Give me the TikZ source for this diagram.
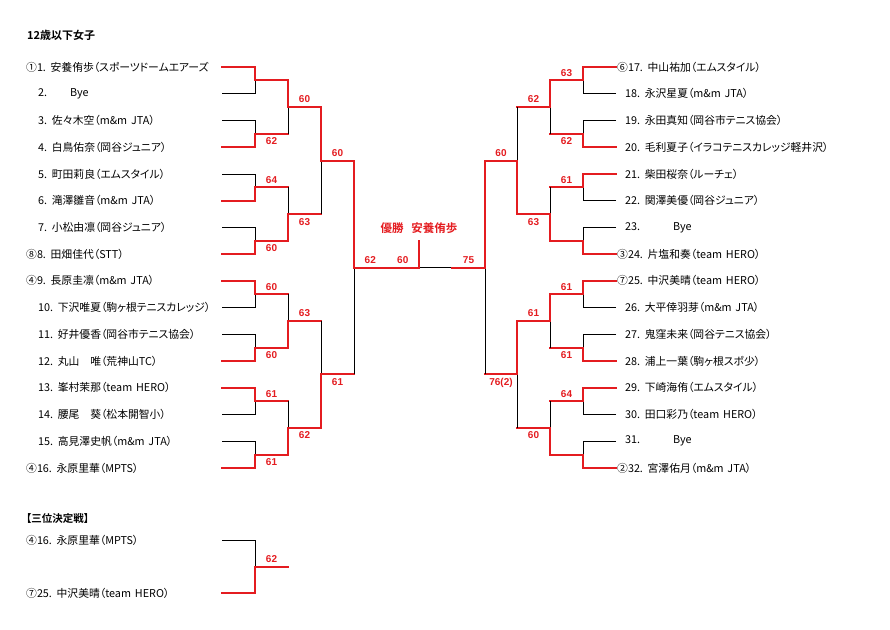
\documentclass[tikz,border=0pt]{standalone}
\usepackage{fontspec}
\setmainfont{Noto Sans CJK JP}[BoldFont={Noto Sans CJK JP Bold}, RawFeature=+palt, WordSpace=1.6]
\newfontfamily\scorefont{Liberation Sans}
\usepackage{tikz}
\definecolor{bracketred}{RGB}{228,28,32}

\tikzset{
  win/.style={draw=bracketred, line width=2pt, line cap=rect},
  lose/.style={draw=black, line width=0.7pt},
  score/.style={text=bracketred, font=\scorefont\bfseries\fontsize{10}{12}\selectfont, inner sep=3pt},
  player/.style={anchor=west, inner sep=0pt, font=\fontsize{10.8}{12}\selectfont},
  heading/.style={anchor=west, inner sep=0pt, font=\bfseries\fontsize{11}{13}\selectfont},
}

\begin{document}
\begin{tikzpicture}[x=1pt, y=-1pt]
\useasboundingbox (0,0) rectangle (890,629);

\node[heading] (title) at (27,35) {12歳以下女子};

% left half of the draw
\foreach \i/\x/\name in {1/26/{①1. 安養侑歩（スポーツドームエアーズ}, 2/38/{2.\hspace{23pt}Bye},
  3/38/{3. 佐々木空（m\&m JTA）}, 4/38/{4. 白鳥佑奈（岡谷ジュニア）},
  5/38/{5. 町田莉良（エムスタイル）}, 6/38/{6. 滝澤雛音（m\&m JTA）},
  7/38/{7. 小松由凛（岡谷ジュニア）}, 8/26/{⑧8. 田畑佳代（STT）},
  9/26/{④9. 長原圭凛（m\&m JTA）}, 10/38/{10. 下沢唯夏（駒ヶ根テニスカレッジ）},
  11/38/{11. 好井優香（岡谷市テニス協会）}, 12/38/{12. 丸山　唯（荒神山TC）},
  13/38/{13. 峯村茉那（team HERO）}, 14/38/{14. 腰尾　葵（松本開智小）},
  15/38/{15. 高見澤史帆（m\&m JTA）}, 16/26/{④16. 永原里華（MPTS）}}
{
  \node[player] (n\i) at (\x,{67+(\i-1)*26.73}) {\name};
  \coordinate (e\i) at (222,{67+(\i-1)*26.73});
}

% right half of the draw
\foreach \i/\x/\name in {17/617/{⑥17. 中山祐加（エムスタイル）}, 18/625/{18. 永沢星夏（m\&m JTA）},
  19/625/{19. 永田真知（岡谷市テニス協会）}, 20/625/{20. 毛利夏子（イラコテニスカレッジ軽井沢）},
  21/625/{21. 柴田桜奈（ルーチェ）}, 22/625/{22. 関澤美優（岡谷ジュニア）},
  23/625/{23.\hspace{33pt}Bye}, 24/617/{③24. 片塩和奏（team HERO）},
  25/617/{⑦25. 中沢美晴（team HERO）}, 26/625/{26. 大平倖羽芽（m\&m JTA）},
  27/625/{27. 鬼窪未来（岡谷テニス協会）}, 28/625/{28. 浦上一葉（駒ヶ根スポ少）},
  29/625/{29. 下崎海侑（エムスタイル）}, 30/625/{30. 田口彩乃（team HERO）},
  31/625/{31.\hspace{33pt}Bye}, 32/617/{②32. 宮澤佑月（m\&m JTA）}}
{
  \node[player] (n\i) at (\x,{67+(\i-17)*26.73}) {\name};
  \coordinate (e\i) at (616,{67+(\i-17)*26.73});
}

% bracket points
\foreach \k in {1,...,8} {
  \coordinate (mL\k) at (255,{67+(2*\k-1.5)*26.73});
  \coordinate (mR\k) at (583,{67+(2*\k-1.5)*26.73});
}
\foreach \k in {1,...,4} {
  \coordinate (qL\k) at (288,{67+(4*\k-2.5)*26.73});
  \coordinate (qR\k) at (550,{67+(4*\k-2.5)*26.73});
}
\foreach \k in {1,2} {
  \coordinate (sL\k) at (321,{67+(8*\k-4.5)*26.73});
  \coordinate (sR\k) at (517,{67+(8*\k-4.5)*26.73});
}
\coordinate (fL) at (354,267.5);
\coordinate (fR) at (485,267.5);
\coordinate (c) at (419,267.5);
\coordinate (cr) at (452,267.5);
\coordinate (w) at (419,241);

% first round
\foreach \k/\a/\b/\s/\pos in {1/win/lose//above, 2/lose/win/62/below, 3/lose/win/64/above, 4/lose/win/60/below,
  5/win/lose/60/above, 6/lose/win/60/below, 7/win/lose/61/above, 8/lose/win/61/below}
{
  \pgfmathtruncatemacro\i{2*\k-1}
  \pgfmathtruncatemacro\j{2*\k}
  \pgfmathtruncatemacro\p{(\k+1)/2}
  \draw[\a] (e\i) -- (e\i -| mL\k) -- (mL\k);
  \draw[\b] (e\j) -- (e\j -| mL\k) -- (mL\k);
  \draw[win] (mL\k) -- (mL\k -| qL\p) node[midway,\pos,score] {\s};
}
\foreach \k/\a/\b/\s/\pos in {1/win/lose/63/above, 2/lose/win/62/below, 3/win/lose/61/above, 4/lose/win//below,
  5/win/lose/61/above, 6/lose/win/61/below, 7/win/lose/64/above, 8/lose/win//below}
{
  \pgfmathtruncatemacro\i{2*\k+15}
  \pgfmathtruncatemacro\j{2*\k+16}
  \pgfmathtruncatemacro\p{(\k+1)/2}
  \draw[\a] (e\i) -- (e\i -| mR\k) -- (mR\k);
  \draw[\b] (e\j) -- (e\j -| mR\k) -- (mR\k);
  \draw[win] (mR\k) -- (mR\k -| qR\p) node[midway,\pos,score] {\s};
}

% second round
\foreach \k/\a/\b/\s/\pos in {1/win/lose/60/above, 2/lose/win/63/below, 3/lose/win/63/above, 4/lose/win/62/below}
{
  \pgfmathtruncatemacro\i{2*\k-1}
  \pgfmathtruncatemacro\j{2*\k}
  \pgfmathtruncatemacro\p{(\k+1)/2}
  \draw[\a] (mL\i -| qL\k) -- (qL\k);
  \draw[\b] (mL\j -| qL\k) -- (qL\k);
  \draw[win] (qL\k) -- (qL\k -| sL\p) node[midway,\pos,score] {\s};
}
\foreach \k/\a/\b/\s/\pos in {1/win/lose/62/above, 2/lose/win/63/below, 3/win/lose/61/above, 4/lose/win/60/below}
{
  \pgfmathtruncatemacro\i{2*\k-1}
  \pgfmathtruncatemacro\j{2*\k}
  \pgfmathtruncatemacro\p{(\k+1)/2}
  \draw[\a] (mR\i -| qR\k) -- (qR\k);
  \draw[\b] (mR\j -| qR\k) -- (qR\k);
  \draw[win] (qR\k) -- (qR\k -| sR\p) node[midway,\pos,score] {\s};
}

% quarter finals
\draw[win] (qL1 -| sL1) -- (sL1);
\draw[lose] (qL2 -| sL1) -- (sL1);
\draw[win] (sL1) -- (sL1 -| fL) node[midway,above,score] {60};
\draw[lose] (qL3 -| sL2) -- (sL2);
\draw[win] (qL4 -| sL2) -- (sL2);
\draw[win] (sL2) -- (sL2 -| fL) node[midway,below,score] {61};
\draw[lose] (qR1 -| sR1) -- (sR1);
\draw[win] (qR2 -| sR1) -- (sR1);
\draw[win] (sR1) -- (sR1 -| fR) node[midway,above,score] {60};
\draw[win] (qR3 -| sR2) -- (sR2);
\draw[lose] (qR4 -| sR2) -- (sR2);
\draw[win] (sR2) -- (sR2 -| fR) node[midway,below,score] {76(2)};

% semi finals and final
\draw[lose] (sL2 -| fL) -- (fL);
\draw[win] (sL1 -| fL) -- (fL);
\draw[lose] (sR2 -| fR) -- (fR);
\draw[win] (sR1 -| fR) -- (fR);
\draw[lose] (c) -- (cr);
\draw[win] (fR) -- (cr) node[midway,above,score] {75};
\draw[win] (fL) -- (c) node[pos=0.25,above,score] {62} node[pos=0.75,above,score] {60};
\draw[win] (c) -- (w);
\node[text=bracketred, font=\bfseries\fontsize{11.5}{13}\selectfont, inner sep=0pt] (champ) at (419,228) {優勝\hspace{8pt}安養侑歩};

% third place match
\node[heading, font=\bfseries\fontsize{10.5}{13}\selectfont] (third) at (26,519) {【三位決定戦】};
\node[player] (t1) at (26,540) {④16. 永原里華（MPTS）};
\node[player] (t2) at (26,593) {⑦25. 中沢美晴（team HERO）};
\coordinate (et1) at (222,540);
\coordinate (et2) at (222,593);
\coordinate (mt) at (255,566.5);
\draw[lose] (et1) -- (et1 -| mt) -- (mt);
\draw[win] (et2) -- (et2 -| mt) -- (mt);
\draw[win] (mt) -- ++(33,0) node[midway,above,score] {62};

\end{tikzpicture}
\end{document}
